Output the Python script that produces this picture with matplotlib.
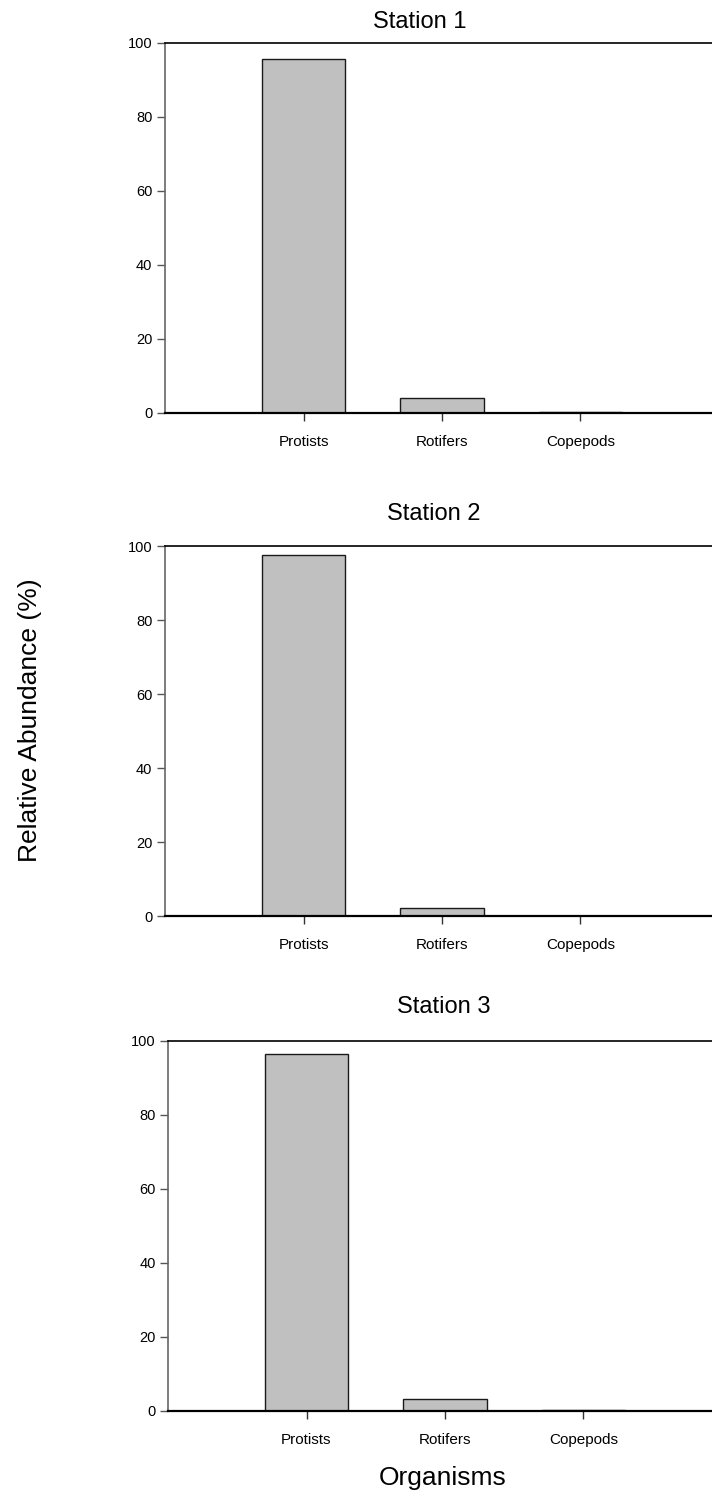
import matplotlib
matplotlib.use('Agg')
from matplotlib import pyplot as plt

plt.rcParams['font.family'] = ['Liberation Sans', 'DejaVu Sans']

organisms = ['Protists', 'Rotifers', 'Copepods']
stations = ['Station 1', 'Station 2', 'Station 3']
station_1 = [95.6, 4.0, 0.4]
station_2 = [97.7, 2.2, 0.1]
station_3 = [96.6, 3.2, 0.2]
yticks = [0, 20, 40, 60, 80, 100]

W, H = 712, 1493
fig = plt.figure(figsize=(W / 100, H / 100), dpi=100)


def px_axes(left, top, right, bottom):
    return fig.add_axes([left / W, 1 - bottom / H, (right - left) / W, (bottom - top) / H])


def bar_panel(ax, values):
    x = [1, 2, 3]
    ax.bar(x, values, width=0.6, color='#c0c0c0', edgecolor='#1a1a1a', linewidth=1.0, zorder=2)
    ax.set_xlim(0, 4)
    ax.set_ylim(0, 100)
    ax.set_xticks(x)
    ax.set_xticklabels(organisms, fontsize=11)
    ax.set_yticks(yticks)
    ax.tick_params(axis='y', labelsize=10.5, direction='out', length=6, width=1, color='#555555', pad=3)
    ax.tick_params(axis='x', direction='out', length=6, width=1, color='#333333', pad=10)
    ax.spines['left'].set_color('#666666')
    ax.spines['left'].set_linewidth(1.2)
    ax.spines['bottom'].set_color('black')
    ax.spines['bottom'].set_linewidth(1.6)
    ax.spines['top'].set_color('black')
    ax.spines['top'].set_linewidth(1.2)
    ax.spines['right'].set_visible(False)


# axes box (left, top, right, bottom) and title anchor (x, baseline y), in pixels
panels = [
    ((165, 43, 719, 413), (420, 28), station_1),
    ((165, 546, 719, 916), (434, 520), station_2),
    ((168, 1041, 722, 1411), (444, 1013), station_3),
]
for (box, (tx, ty), vals), name in zip(panels, stations):
    ax = px_axes(*box)
    bar_panel(ax, vals)
    fig.text(tx / W, 1 - ty / H, name, ha='center', va='baseline', fontsize=17)

fig.text(30 / W, 1 - 720 / H, 'Relative Abundance (%)', rotation=90,
         ha='center', va='center', fontsize=19)
fig.text(443 / W, 1 - 1485 / H, 'Organisms', ha='center', va='baseline', fontsize=19)

plt.savefig('out.png', dpi=100)
